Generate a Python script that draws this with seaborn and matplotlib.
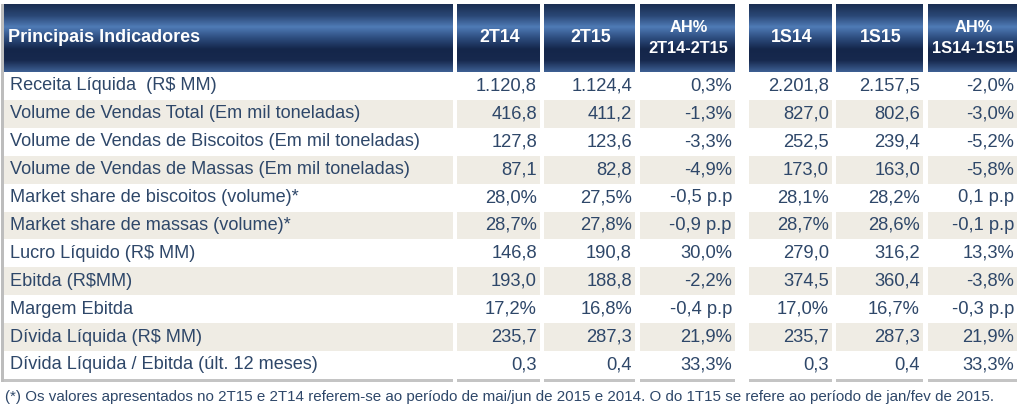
import numpy as np
import matplotlib
matplotlib.use("Agg")
import matplotlib.pyplot as plt
import seaborn as sns
from matplotlib.colors import LinearSegmentedColormap

# dados da tabela
indicadores = [
    "Receita Líquida  (R$ MM)",
    "Volume de Vendas Total (Em mil toneladas)",
    "Volume de Vendas de Biscoitos (Em mil toneladas)",
    "Volume de Vendas de Massas (Em mil toneladas)",
    "Market share de biscoitos (volume)*",
    "Market share de massas (volume)*",
    "Lucro Líquido (R$ MM)",
    "Ebitda (R$MM)",
    "Margem Ebitda",
    "Dívida Líquida (R$ MM)",
    "Dívida Líquida / Ebitda (últ. 12 meses)",
]
colunas = ["2T14", "2T15", "AH%\n2T14-2T15", "1S14", "1S15", "AH%\n1S14-1S15"]
unidade = ["", "", "", "", "%", "%", "", "", "%", "", ""]
unidade_ah = ["%", "%", "%", "%", " p.p", " p.p", "%", "%", " p.p", "%", "%"]

v_2t14 = [1120.8, 416.8, 127.8, 87.1, 28.0, 28.7, 146.8, 193.0, 17.2, 235.7, 0.3]
v_2t15 = [1124.4, 411.2, 123.6, 82.8, 27.5, 27.8, 190.8, 188.8, 16.8, 287.3, 0.4]
ah_2t = [0.3, -1.3, -3.3, -4.9, -0.5, -0.9, 30.0, -2.2, -0.4, 21.9, 33.3]
v_1s14 = [2201.8, 827.0, 252.5, 173.0, 28.1, 28.7, 279.0, 374.5, 17.0, 235.7, 0.3]
v_1s15 = [2157.5, 802.6, 239.4, 163.0, 28.2, 28.6, 316.2, 360.4, 16.7, 287.3, 0.4]
ah_1s = [-2.0, -3.0, -5.2, -5.8, 0.1, -0.1, 13.3, -3.8, -0.3, 21.9, 33.3]

nota = ("(*) Os valores apresentados no 2T15 e 2T14 referem-se ao período de mai/jun "
        "de 2015 e 2014. O do 1T15 se refere ao período de jan/fev de 2015.")


def fmt(v):
    s = f"{v:,.1f}"
    return s.replace(",", "X").replace(".", ",").replace("X", ".")


serie = [
    [fmt(v) + u for v, u in zip(v_2t14, unidade)],
    [fmt(v) + u for v, u in zip(v_2t15, unidade)],
    [fmt(v) + u for v, u in zip(ah_2t, unidade_ah)],
    [fmt(v) + u for v, u in zip(v_1s14, unidade)],
    [fmt(v) + u for v, u in zip(v_1s15, unidade)],
    [fmt(v) + u for v, u in zip(ah_1s, unidade_ah)],
]

sns.set_theme(style="white")
plt.rcParams["font.family"] = ["Liberation Sans", "DejaVu Sans"]

W, H = 1019, 408
fig = plt.figure(figsize=(W / 100, H / 100), dpi=100)
ax = fig.add_axes([0, 0, 1, 1])
ax.set_xlim(0, W)
ax.set_ylim(H, 0)
ax.axis("off")

# limites das colunas (px)
x_lab = (4, 453)
x_cols = [(457, 540), (544, 635), (640, 735), (749, 832), (836, 923), (928, 1017)]
y_head = (4, 72)
y0, passo = 72, 27.9

texto = "#2e4769"
bege = "#efece4"
cmap = LinearSegmentedColormap.from_list(
    "hdr", ["#1a2e52", "#2a4775", "#4f7bb6", "#2d4c7e", "#14264a", "#17294e", "#3d5f92"])
grad = np.linspace(0, 1, 100).reshape(-1, 1)


def cabecalho(x1, x2):
    ax.imshow(grad, cmap=cmap, aspect="auto", extent=(x1, x2, y_head[1], y_head[0]),
              zorder=1)


cabecalho(*x_lab)
ax.text(x_lab[0] + 4, 38, "Principais Indicadores", color="white", fontsize=13,
        fontweight="bold", va="center", ha="left", zorder=3)
for (x1, x2), nome in zip(x_cols, colunas):
    cabecalho(x1, x2)
    ax.text((x1 + x2) / 2 + 1, 38, nome, color="white",
            fontsize=12.8 if "\n" not in nome else 11.8, fontweight="bold",
            va="center", ha="center", linespacing=1.45, zorder=3)

# linhas do corpo
for i, ind in enumerate(indicadores):
    ya = y0 + i * passo
    yc = ya + passo / 2
    if i % 2 == 1:
        ax.add_patch(plt.Rectangle((x_lab[0], ya), x_lab[1] - x_lab[0], passo,
                                   color=bege, lw=0, zorder=1))
        for x1, x2 in x_cols:
            ax.add_patch(plt.Rectangle((x1, ya), x2 - x1, passo, color=bege, lw=0, zorder=1))
    ax.text(x_lab[0] + 6, yc, ind, color=texto, fontsize=13.1, va="center", ha="left",
            zorder=3)
    for (x1, x2), col in zip(x_cols, serie):
        ax.text(x2 - 3, yc, col[i], color=texto, fontsize=13.2, va="center", ha="right",
                zorder=3)

y_fim = y0 + len(indicadores) * passo
# borda esquerda e linha inferior
ax.add_patch(plt.Rectangle((1, y_head[0]), 3, y_fim + 3 - y_head[0], color="#bdbdbd",
                           lw=0, zorder=2))
ax.add_patch(plt.Rectangle((x_lab[0], y_fim), x_lab[1] - x_lab[0], 3, color="#c4c4c4",
                           lw=0, zorder=2))
for x1, x2 in x_cols:
    ax.add_patch(plt.Rectangle((x1, y_fim), x2 - x1, 3, color="#c4c4c4", lw=0, zorder=2))

ax.text(5, y_fim + 18, nota, color=texto, fontsize=10.9, va="center", ha="left")

fig.savefig("out.png", dpi=100)
